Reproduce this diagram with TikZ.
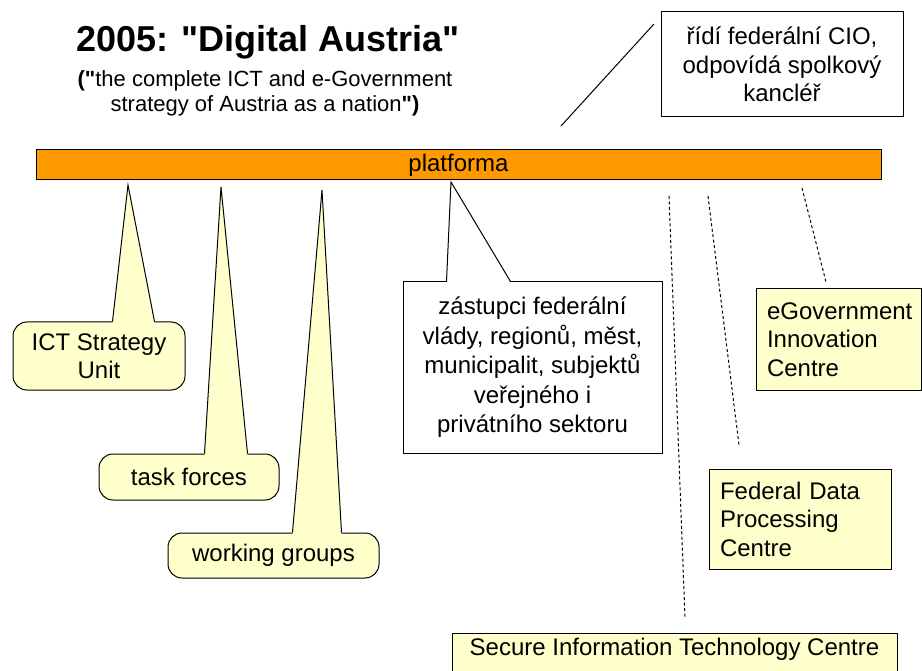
\documentclass[tikz,border=0pt]{standalone}
\usepackage{fontspec}
\newfontfamily\arialfont{Liberation Sans}
\usetikzlibrary{calc}

\definecolor{barorange}{HTML}{FF9900}
\definecolor{noteyellow}{HTML}{FFFFCC}

\tikzset{
  txt/.style={font=\arialfont\fontsize{24}{28.5}\selectfont},
  callout/.style={txt, draw, line width=1pt, fill=noteyellow, rounded corners=14pt, inner sep=0pt, align=center},
  infobox/.style={txt, draw, line width=1pt, fill=noteyellow, inner xsep=11pt, inner ysep=0pt, align=left},
  plainbox/.style={txt, draw, line width=1pt, fill=white, inner sep=0pt, align=center},
  dotline/.style={line width=1pt, dash pattern=on 3pt off 2.5pt},
}

\begin{document}
\begin{tikzpicture}[x=1pt, y=-1pt]
  \useasboundingbox (0,0) rectangle (922,671);
  \clip (0,0) rectangle (922,671);

  % Heading
  \node[font=\arialfont\fontsize{36}{40}\selectfont\bfseries, inner sep=0pt] (title) at (268,42) {2005: "Digital Austria"};
  \node[font=\arialfont\fontsize{22}{25}\selectfont, align=center, inner sep=0pt] (subtitle) at (265,93)
    {{\bfseries("}the complete ICT and e-Government\\strategy of Austria as a nation{\bfseries")}};

  % Note on the top right with its line
  \node[plainbox, minimum width=242, minimum height=105] (cio) at (782,64.5)
    {řídí federální CIO,\\odpovídá spolkový\\kancléř};
  \coordinate (cioA) at (654,24);
  \coordinate (cioB) at (561,126);
  \draw[line width=1pt] (cioA) -- (cioB);

  % Drawing the platform bar
  \node[txt, draw, line width=1pt, fill=barorange, minimum width=845, minimum height=30, inner sep=0pt] (platforma) at (458.5,165) {platforma};

  % Callout ICT Strategy Unit
  \node[callout, minimum width=172, minimum height=68] (ict) at (99,356) {ICT Strategy\\Unit};
  \coordinate (ictTip) at (128,185);
  \fill[noteyellow] ($(ict.north west)+(100,1.5)$) -- (ictTip) -- ($(ict.north west)+(142,1.5)$) -- cycle;
  \draw[line width=1pt] ($(ict.north west)+(100,0)$) -- (ictTip) -- ($(ict.north west)+(142,0)$);

  % Callout task forces
  \node[callout, minimum width=180, minimum height=46] (task) at (189,477) {task forces};
  \coordinate (taskTip) at (221,187);
  \fill[noteyellow] ($(task.north west)+(106,1.5)$) -- (taskTip) -- ($(task.north west)+(149,1.5)$) -- cycle;
  \draw[line width=1pt] ($(task.north west)+(106,0)$) -- (taskTip) -- ($(task.north west)+(149,0)$);

  % Callout working groups
  \node[callout, minimum width=211, minimum height=45] (work) at (273.5,555.5) {working groups};
  \coordinate (workTip) at (322,190);
  \fill[noteyellow] ($(work.north west)+(125,1.5)$) -- (workTip) -- ($(work.north west)+(174,1.5)$) -- cycle;
  \draw[line width=1pt] ($(work.north west)+(125,0)$) -- (workTip) -- ($(work.north west)+(174,0)$);

  % Callout with the members of the platform
  \node[plainbox, minimum width=259, minimum height=171, font=\arialfont\fontsize{24}{29.5}\selectfont] (members) at (532.5,367.5)
    {zástupci federální\\vlády, regionů, měst,\\municipalit, subjektů\\veřejného i\\privátního sektoru};
  \coordinate (membersTip) at (451,182);
  \fill[white] ($(members.north west)+(44,1.5)$) -- (membersTip) -- ($(members.north west)+(108,1.5)$) -- cycle;
  \draw[line width=1pt] ($(members.north west)+(44,0)$) -- (membersTip) -- ($(members.north west)+(108,0)$);

  % Centres below the platform
  \node[infobox, minimum width=165, minimum height=101, text width=143] (egov) at (838.5,339.5)
    {eGovernment\\Innovation\\Centre};
  \node[infobox, minimum width=182, minimum height=100, text width=160] (fdpc) at (800,519)
    {Federal Data\\Processing\\Centre};
  \node[txt, draw, line width=1pt, fill=noteyellow, minimum width=445, text height=18, text depth=30, inner xsep=0pt, inner ysep=4pt, anchor=base] (sitc) at (674.5,655)
    {Secure Information Technology Centre};

  % Dashed lines to the centres
  \coordinate (sitcA) at (669,196);
  \coordinate (sitcB) at (685,618);
  \coordinate (fdpcA) at (708,196);
  \coordinate (fdpcB) at (739,445);
  \coordinate (egovA) at (802,188);
  \coordinate (egovB) at (826,282);
  \draw[dotline] (sitcA) -- (sitcB);
  \draw[dotline] (fdpcA) -- (fdpcB);
  \draw[dotline] (egovA) -- (egovB);
\end{tikzpicture}
\end{document}
